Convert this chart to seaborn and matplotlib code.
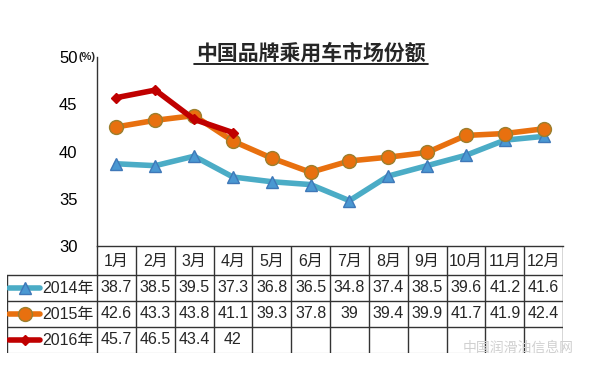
import numpy as np
import pandas as pd
import matplotlib
matplotlib.use("Agg")
import matplotlib.pyplot as plt
from matplotlib.lines import Line2D
import seaborn as sns

months = ["1月", "2月", "3月", "4月", "5月", "6月", "7月", "8月", "9月", "10月", "11月", "12月"]
y2014 = [38.7, 38.5, 39.5, 37.3, 36.8, 36.5, 34.8, 37.4, 38.5, 39.6, 41.2, 41.6]
y2015 = [42.6, 43.3, 43.8, 41.1, 39.3, 37.8, 39, 39.4, 39.9, 41.7, 41.9, 42.4]
y2016 = [45.7, 46.5, 43.4, 42]
labels2014 = ["38.7", "38.5", "39.5", "37.3", "36.8", "36.5", "34.8", "37.4", "38.5", "39.6", "41.2", "41.6"]
labels2015 = ["42.6", "43.3", "43.8", "41.1", "39.3", "37.8", "39", "39.4", "39.9", "41.7", "41.9", "42.4"]
labels2016 = ["45.7", "46.5", "43.4", "42"]
yticks = [30, 35, 40, 45, 50]

sns.set_style("white")
plt.rcParams['font.family'] = ['Liberation Sans', 'Noto Sans CJK SC', 'DejaVu Sans']

W, H = 600, 372
fig = plt.figure(figsize=(6, 3.72), dpi=100)

# main plot area
ax = fig.add_axes([97 / W, 126 / H, 466 / W, 189 / H])
x_all = np.arange(12)

styles = [
    ("2014年", y2014, "#4BACC6", "^", "#4A98D2", "#3F78B8", 9),
    ("2015年", y2015, "#E8700F", "o", "#E8700F", "#9C7F2E", 10),
    ("2016年", y2016, "#C00000", "D", "#C00000", "#C00000", 5),
]
for name, vals, lc, mk, mfc, mec, ms in styles:
    df = pd.DataFrame({"x": x_all[:len(vals)], "y": vals})
    sns.lineplot(data=df, x="x", y="y", ax=ax, color=lc, linewidth=4,
                 marker=mk, markersize=ms, markerfacecolor=mfc,
                 markeredgecolor=mec, markeredgewidth=1)

ax.set_xlim(-0.5, 11.5)
ax.set_ylim(30, 50)
ax.set_yticks(yticks)
ax.set_yticklabels([str(t) for t in yticks], fontsize=12)
ax.tick_params(axis="y", direction="in", length=4, pad=14, width=1, colors="black")
ax.set_xticks([])
ax.set_xlabel("")
ax.set_ylabel("")
for s in ["top", "right"]:
    ax.spines[s].set_visible(False)
for s in ["left", "bottom"]:
    ax.spines[s].set_color("#333333")
    ax.spines[s].set_linewidth(1)
ax.annotate("(%)", xy=(0, 1), xycoords="axes fraction", xytext=(-13.5, 0),
            textcoords="offset points", fontsize=8, fontweight="bold",
            ha="left", va="center")

# title with underline
fig.text(311 / W, 1 - 53 / H, "中国品牌乘用车市场份额", fontsize=15, fontweight="bold",
         ha="center", va="center", family=["Noto Sans CJK SC"])
fig.add_artist(Line2D([194 / W, 428 / W], [1 - 64 / H, 1 - 64 / H], color="black", lw=1.2))

# data table
tab = fig.add_axes([7 / W, 19 / H, 556 / W, 107 / H])
left = -0.5 - 90 / 38.83
tab.set_xlim(left, 11.5)
tab.set_ylim(0, 107)
tab.axis("off")
row_top = [78, 52, 26]
row_h = 26
lc = "#333333"
# horizontal lines
for yv in [78, 52, 26]:
    tab.plot([left, 11.5], [yv, yv], color=lc, lw=1)
tab.plot([left, 11.5], [0, 0], color="#dddddd", lw=1)
# vertical lines
tab.plot([left, left], [0, 78], color=lc, lw=1)
for i in range(13):
    tab.plot([i - 0.5, i - 0.5], [0, 107], color=lc, lw=1)

for i, m in enumerate(months):
    tab.text(i, 92, m, ha="center", va="center", fontsize=11.5)

rows = [("2014年", labels2014, styles[0]), ("2015年", labels2015, styles[1]), ("2016年", labels2016, styles[2])]
for (name, labs, st), yt in zip(rows, row_top):
    yc = yt - row_h / 2
    _, _, lcol, mk, mfc, mec, ms = st
    x0 = left + 2 / 38.83
    x1 = left + 33 / 38.83
    tab.plot([x0, x1], [yc, yc], color=lcol, lw=4, solid_capstyle="round")
    tab.plot([(x0 + x1) / 2], [yc], marker=mk, markersize=ms, color=mfc, markeredgecolor=mec)
    tab.text(x1 + 2 / 38.83, yc, name, ha="left", va="center", fontsize=11.5)
    for i, t in enumerate(labs):
        tab.text(i, yc, t, ha="center", va="center", fontsize=11.5)

# watermark
fig.text(518 / W, 1 - 348 / H, "中国润滑油信息网", fontsize=10, color="#d0d0d0",
         ha="center", va="center", family=["Noto Sans CJK SC"])

fig.savefig("out.png", dpi=100)
